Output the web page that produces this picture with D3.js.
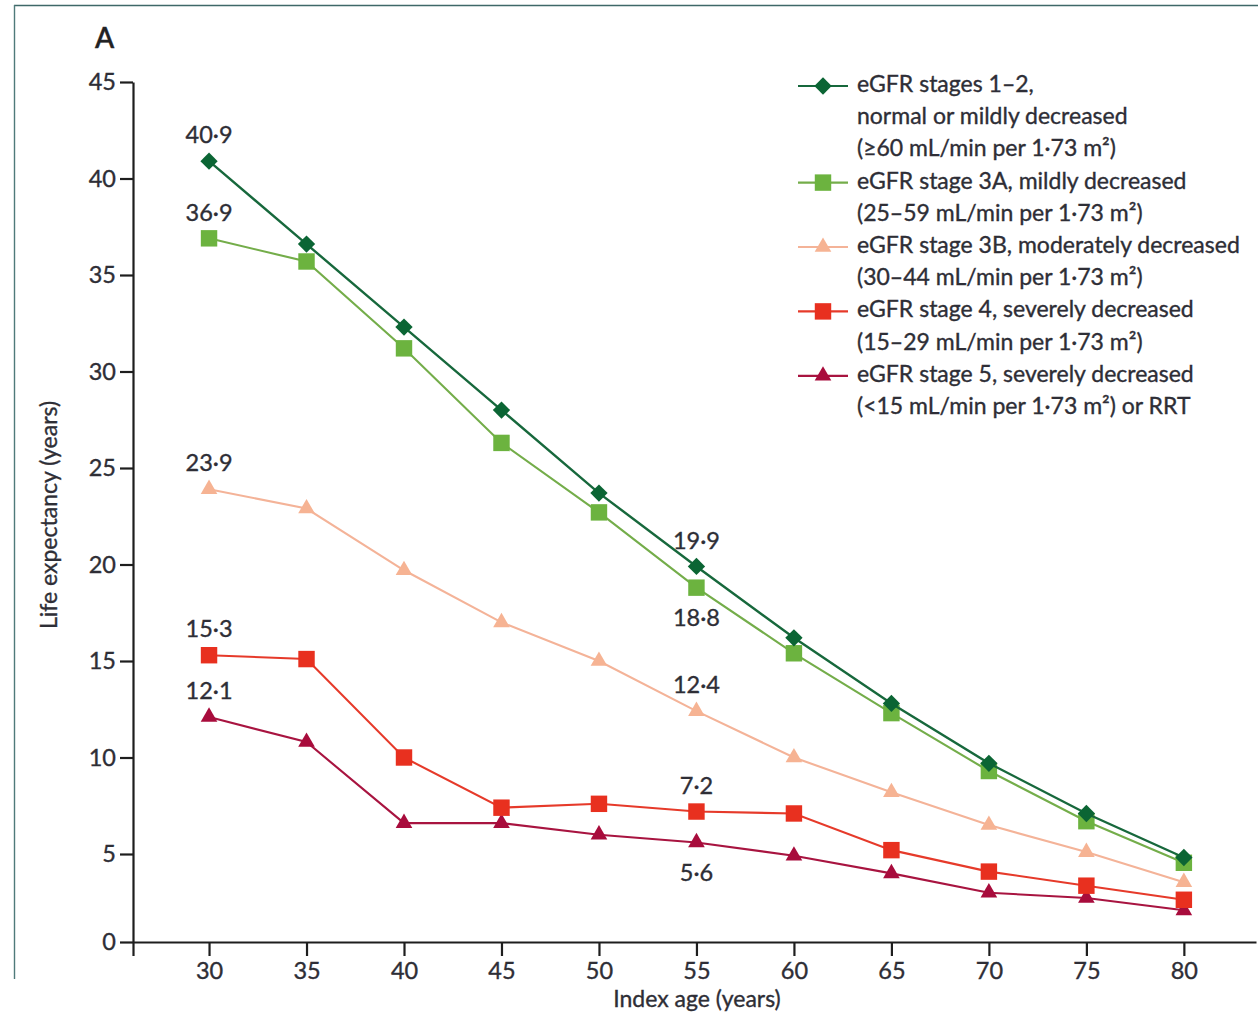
<!DOCTYPE html>
<html>
<head>
<meta charset="utf-8">
<script src="https://cdn.jsdelivr.net/npm/d3@7/dist/d3.min.js"></script>
<style>
  html, body { margin: 0; padding: 0; background: #fff; }
  svg { display: block; font-family: Lato, "Noto Sans", sans-serif; }
  svg text { stroke: #2e2e36; stroke-width: 0.35px; }
</style>
</head>
<body>
<svg id="chart" width="1258" height="1014"></svg>
<script>
// Life expectancy by index age for each eGFR stage
const ages = [30, 35, 40, 45, 50, 55, 60, 65, 70, 75, 80];
const stage12 = [40.9, 36.6, 32.3, 28.0, 23.7, 19.9, 16.2, 12.8, 9.7, 7.1, 4.8];
const stage3a = [36.9, 35.7, 31.2, 26.3, 22.7, 18.8, 15.4, 12.3, 9.3, 6.7, 4.5];
const stage3b = [23.9, 22.9, 19.7, 17.0, 15.0, 12.4, 10.0, 8.2, 6.5, 5.1, 3.4];
const stage4  = [15.3, 15.1, 10.0, 7.4, 7.6, 7.2, 7.1, 5.2, 4.0, 3.2, 2.4];
const stage5  = [12.1, 10.8, 6.6, 6.6, 6.0, 5.6, 4.9, 3.9, 2.8, 2.5, 1.8];

const yTicks = [0, 5, 10, 15, 20, 25, 30, 35, 40, 45];

const legendLines = [
  ["eGFR stages 1–2,", "normal or mildly decreased", "(≥60 mL/min per 1·73 m²)"],
  ["eGFR stage 3A, mildly decreased", "(25–59 mL/min per 1·73 m²)"],
  ["eGFR stage 3B, moderately decreased", "(30–44 mL/min per 1·73 m²)"],
  ["eGFR stage 4, severely decreased", "(15–29 mL/min per 1·73 m²)"],
  ["eGFR stage 5, severely decreased", "(<15 mL/min per 1·73 m²) or RRT"]
];

// Points that carry a value label: [series index, age, side]
const valueLabels = [
  [0, 30, "above"], [1, 30, "above"], [2, 30, "above"], [3, 30, "above"], [4, 30, "above"],
  [0, 55, "above"], [1, 55, "below"], [2, 55, "above"], [3, 55, "above"], [4, 55, "below"]
];

const seriesValues = [stage12, stage3a, stage3b, stage4, stage5];
const lineColors   = ["#17683c", "#74ad4a", "#f4b398", "#e63a2a", "#a81440"];
const markerColors = ["#0b6534", "#6cb33f", "#f6b393", "#e8301f", "#a80c3c"];
const markerKinds  = ["diamond", "square", "triangle", "square", "triangle"];

const svg = d3.select("#chart");
const textColor = "#2e2e36";
const fmt = v => d3.format(".1f")(v).replace(".", "·");

// Panel frame
svg.append("line").attr("x1", 14).attr("x2", 1258).attr("y1", 5.5).attr("y2", 5.5)
  .attr("stroke", "#3f6868").attr("stroke-width", 1.6);
svg.append("line").attr("x1", 14.5).attr("x2", 14.5).attr("y1", 5).attr("y2", 979)
  .attr("stroke", "#4f7a7a").attr("stroke-width", 1.4);

svg.append("text").attr("x", 95).attr("y", 48)
  .attr("font-size", 28).attr("font-weight", 600).attr("fill", "#222")
  .text("A");

// Scales (the lowest interval is slightly compressed at the axis origin)
const x = d3.scaleLinear().domain([26.1, 83.7]).range([133, 1256]);
const y = d3.scaleLinear().domain([0, 5, 45]).range([942, 854, 82]);

// Axes
const xAxis = svg.append("g").attr("transform", "translate(0,942)")
  .call(d3.axisBottom(x).tickValues([x.domain()[0]].concat(ages))
    .tickFormat(d => ages.includes(d) ? d : "")
    .tickSize(14).tickSizeOuter(0).tickPadding(6));
const yAxis = svg.append("g").attr("transform", "translate(133,0)")
  .call(d3.axisLeft(y).tickValues(yTicks).tickSize(13).tickSizeOuter(0).tickPadding(4));

[xAxis, yAxis].forEach(g => {
  g.select(".domain").attr("stroke", "#1e1e1e").attr("stroke-width", 2.2);
  g.selectAll(".tick line").attr("stroke", "#1e1e1e").attr("stroke-width", 2.2);
  g.selectAll(".tick text").attr("fill", textColor).attr("font-size", 23.5)
    .attr("font-family", "Lato, 'Noto Sans', sans-serif");
});

svg.append("text").attr("x", 697).attr("y", 1007).attr("text-anchor", "middle")
  .attr("font-size", 23).attr("fill", textColor).text("Index age (years)");
svg.append("text").attr("transform", "translate(57,515) rotate(-90)")
  .attr("text-anchor", "middle").attr("font-size", 23).attr("fill", textColor)
  .text("Life expectancy (years)");

// Marker shapes
function markerPath(kind) {
  if (kind === "diamond") return d3.symbol(d3.symbolSquare, 150)();
  if (kind === "square") return d3.symbol(d3.symbolSquare, 270)();
  return d3.symbol(d3.symbolTriangle, 120)();
}
function markerTransform(kind, px, py) {
  return kind === "diamond" ? `translate(${px},${py}) rotate(45)` : `translate(${px},${py})`;
}

// Series lines and markers, drawn from the lowest stage upwards
const line = d3.line().x(d => x(d[0])).y(d => y(d[1]));
d3.range(seriesValues.length).reverse().forEach(i => {
  const pts = ages.map((a, j) => [a, seriesValues[i][j]]);
  svg.append("path").datum(pts).attr("d", line)
    .attr("fill", "none").attr("stroke", lineColors[i]).attr("stroke-width", i === 0 ? 2.4 : 2.1);
  svg.append("g").selectAll("path").data(pts).join("path")
    .attr("d", markerPath(markerKinds[i]))
    .attr("transform", d => markerTransform(markerKinds[i], x(d[0]), y(d[1])))
    .attr("fill", markerColors[i]);
});

// Value labels
svg.append("g").selectAll("text").data(valueLabels).join("text")
  .attr("x", d => x(d[1]))
  .attr("y", d => y(seriesValues[d[0]][ages.indexOf(d[1])]) + (d[2] === "above" ? -26 : 30))
  .attr("dy", "0.35em").attr("text-anchor", "middle")
  .attr("font-size", 23.5).attr("fill", textColor)
  .text(d => fmt(seriesValues[d[0]][ages.indexOf(d[1])]));

// Legend
const legend = svg.append("g");
const rowGap = 32.2, rowTop = 84;
let row = 0;
legendLines.forEach((lines, i) => {
  const cy = rowTop + row * rowGap + 2;
  legend.append("line").attr("x1", 798).attr("x2", 848).attr("y1", cy).attr("y2", cy)
    .attr("stroke", lineColors[i]).attr("stroke-width", 2.2);
  legend.append("path").attr("d", markerPath(markerKinds[i]))
    .attr("transform", markerTransform(markerKinds[i], 823, cy))
    .attr("fill", markerColors[i]);
  lines.forEach(t => {
    legend.append("text").attr("x", 857).attr("y", rowTop + row * rowGap)
      .attr("dy", "0.35em").attr("font-size", 23).attr("fill", textColor).text(t);
    row++;
  });
});
</script>
</body>
</html>
